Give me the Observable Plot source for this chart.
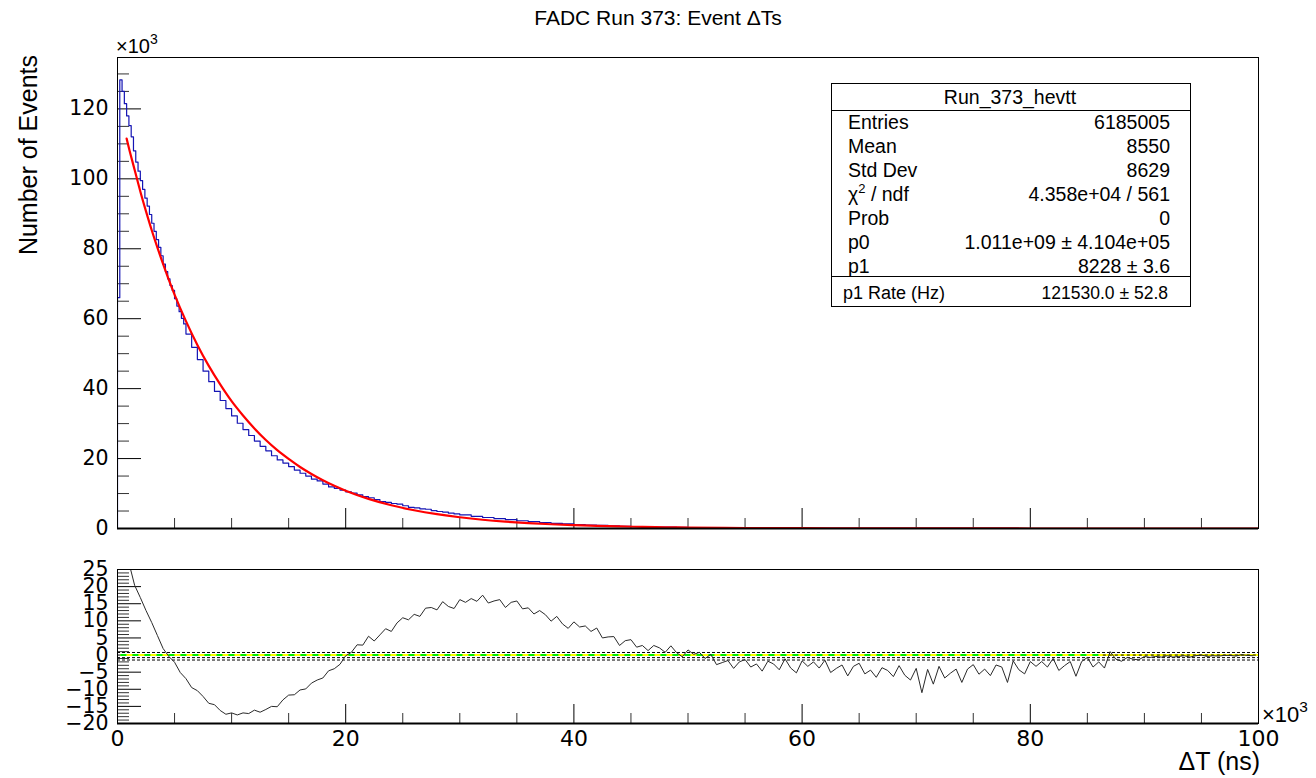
<!DOCTYPE html>
<html><head><meta charset="utf-8">
<script src="https://cdn.jsdelivr.net/npm/d3@7"></script>
<script src="https://cdn.jsdelivr.net/npm/@observablehq/plot@0.6"></script>
<style>
body{margin:0;background:#fff;}
#root{position:relative;width:1316px;height:778px;overflow:hidden;background:#fff;}
</style></head><body><div id="root"></div>
<script>
// ---------------- data ----------------
// histogram of event ΔT, in thousands of events per bin
const binsFineCounts = [66,128.3,125.0,121.5,118.0,115.2,112.0,108.0,104.8,102.2,
  99.5,97.0,94.5,92.2,89.8,87.3,85.0,82.6,80.4,78.0,
  75.6,73.5,71.4,69.5,68.1,65.7,63.6,62.0,60.1,58.5];            // 0–6k, 0.2k wide
const binsMidCounts = [55.6,51.8,48.3,45.0,42.0,39.2,36.6,34.3,32.2,30.1,
  28.3,26.6,25.0,23.5,22.2,20.8,19.6,18.7,17.7,16.7,
  15.8,15.0,14.1,13.6,12.7,11.9,11.5,11.0,10.5,10.1,
  9.6,9.1,8.8,8.24,7.7,7.5,7.15,6.95,6.5,6.05,
  5.92,5.64,5.5,5.11,4.86,4.7,4.39,4.17];                          // 6–30k, 0.5k wide
const binsTailCounts = [3.87,3.49,3.15,2.81,2.51,2.22,1.95,1.71,1.48,1.30,
  1.13,0.99,0.87,0.75,0.65,0.57,0.49,0.42,0.37,0.32,
  0.27,0.23,0.20,0.175,0.154,0.137,0.12,0.106,0.094,0.083,
  0.074,0.065,0.058,0.051,0.045,0.04,0.035,0.031,0.027,0.024,
  0.021,0.019,0.017,0.015,0.013,0.012,0.011,0.009,0.008,0.007,
  0.0065,0.006,0.005,0.005,0.004,0.004,0.003,0.003,0.003,0.002,
  0.002,0.002,0.002,0.001,0.001,0.001,0.001,0.001,0.001,0.001];    // 30–100k, 1k wide

// exponential fit curve (red), thousands of events
const fitX = [0.8,1,1.5,2,2.5,3,3.5,4,4.5,5,6,7,8,9,10,11,12,13,14,15,16,17,18,19,20,22,24,26,28,30,32,34,36,38,40,42,44,46,48,50,55,60,65,70,80,90,100];
const fitY = [111.5,108.8,102.6,96.4,90.7,85.3,80.3,75.6,71.1,66.9,59.3,52.5,46.5,41.2,36.4,32.3,28.6,25.3,22.4,19.9,17.6,15.6,13.8,12.2,10.8,8.48,6.65,5.21,4.09,3.21,2.51,1.97,1.55,1.21,0.95,0.75,0.58,0.46,0.36,0.28,0.15,0.08,0.045,0.025,0.007,0.002,0.0006];

// fit residuals, one value every 0.5k starting at 1k
const residualStart = 1.0, residualStep = 0.5;
const residuals = [
  27,20.4,16.8,13.0,9.5,5.7,1.9,-0.4,-2.1,-5.1,
  -6.9,-9.5,-10.4,-12.1,-14.1,-14.5,-16.2,-17.3,-16.9,-17.5,
  -16.9,-17.1,-16.1,-16.7,-15.9,-15.0,-15.1,-13.1,-11.7,-11.6,
  -10.2,-9.9,-8.2,-7.3,-6.7,-4.6,-4.0,-2.7,-0.2,0.8,
  3.0,2.9,5.5,4.1,5.9,7.7,6.9,9.4,10.9,10.3,
  11.9,11.3,13.7,13.9,13.2,15.6,14.2,13.6,16.2,15.4,
  16.5,15.7,17.5,15.2,15.8,16.2,13.9,15.4,15.8,13.5,
  13.8,12.0,13.0,11.8,9.9,11.3,9.1,7.8,9.7,8.2,
  8.5,6.9,7.9,5.0,5.3,5.4,2.8,4.2,4.5,2.3,
  2.8,1.3,2.8,2.1,0.8,2.7,0.7,-0.5,1.5,0.2,
  0.8,-1.0,0.2,-2.8,-2.2,-1.6,-3.9,-2.0,-1.3,-3.5,
  -2.6,-4.7,-1.8,-2.6,-4.3,-1.1,-3.8,-5.2,-1.7,-3.3,
  -2.0,-3.8,-1.5,-5.1,-3.9,-2.9,-6.1,-3.3,-2.4,-5.5,
  -4.4,-6.5,-3.7,-4.5,-6.3,-3.1,-5.9,-7.3,-3.9,-11.0,
  -4.2,-8.5,-3.3,-6.7,-5.3,-4.1,-8.0,-4.1,-2.8,-5.6,
  -4.1,-6.0,-2.9,-3.5,-8.0,-1.7,-4.3,-5.5,-1.9,-3.3,
  -1.9,-3.5,-1.0,-4.5,-3.1,-1.9,-6.2,-1.9,-0.7,-3.5,
  -2.0,-3.8,1.0,-1.2,-1.8,-0.7,-1.2,-1.4,-0.4,-0.7,
  -0.4,-0.6,-0.2,-0.6,-0.4,-0.2,-0.6,-0.2,0.0,-0.4,
  -0.2,-0.3,-0.1,-0.1,-0.3,0.1,-0.1,-0.2];
const residualGuides = [0.75, -0.75, -1.45];   // dashed guide lines
const bandEnd = 86.4;                            // extent of green band

// axes
const xTickLabels = [0,20,40,60,80,100];
const xMinorTicks = [5,10,15,25,30,35,45,50,55,65,70,75,85,90,95];
const yTopLabels = [0,20,40,60,80,100,120];
const yTopMinor = [5,10,15,25,30,35,45,50,55,65,70,75,85,90,95,105,110,115,125,130];
const yResLabels = [-20,-15,-10,-5,0,5,10,15,20,25];
const yResMinor = [-19,-18,-17,-16,-14,-13,-12,-11,-9,-8,-7,-6,-4,-3,-2,-1,1,2,3,4,6,7,8,9,11,12,13,14,16,17,18,19,21,22,23,24];

// stats box text
const statsTitle = "Run_373_hevtt";
const statsRows = [["Entries","6185005"],["Mean","8550"],["Std Dev","8629"],["CHI","4.358e+04 / 561"],["Prob","0"],["p0","1.011e+09 \u00b1 4.104e+05"],["p1","8228 \u00b1 3.6"]];
const statsRate = ["p1 Rate (Hz)","121530.0 \u00b1 52.8"];

// ---------------- build ----------------
const W = 1316;
const root = document.getElementById("root");
function place(el, top) { el.style.position = "absolute"; el.style.left = "0px"; el.style.top = top + "px"; root.appendChild(el); }

const edges = [...d3.range(30).map(i => i * 0.2), ...d3.range(48).map(i => 6 + i * 0.5), ...d3.range(70).map(i => 30 + i)];
const counts = [...binsFineCounts, ...binsMidCounts, ...binsTailCounts];
const histPts = [{x: 0, y: 0}];
edges.forEach((e, i) => histPts.push({x: e, y: counts[i]}));
histPts.push({x: 100, y: counts[counts.length - 1]});
histPts.push({x: 100, y: 0});
const fitPts = fitX.map((x, i) => ({x, y: fitY[i]}));
const resPts = residuals.map((v, i) => ({x: residualStart + i * residualStep, y: v}));

const mL = 117, mR = 58;
const frameW = W - mL - mR;

// top panel
const topH = 540, topMT = 57, topMB = 12, topFH = topH - topMT - topMB;
const topPlot = Plot.plot({
  width: W, height: topH, marginLeft: mL, marginRight: mR, marginTop: topMT, marginBottom: topMB,
  x: {domain: [0, 100], axis: null},
  y: {domain: [0, 134.7], axis: null},
  style: {background: "transparent", fontFamily: "DejaVu Sans", fontSize: "20.5px", color: "black"},
  marks: [
    Plot.tickY(yTopMinor, {y: d => d, insetRight: frameW - 12, stroke: "#333"}),
    Plot.tickY(yTopLabels, {y: d => d, insetRight: frameW - 24, stroke: "black"}),
    Plot.tickX(xMinorTicks, {x: d => d, insetTop: topFH - 10, stroke: "#333"}),
    Plot.tickX(xTickLabels, {x: d => d, insetTop: topFH - 20, stroke: "black"}),
    Plot.axisY(yTopLabels, {tickSize: 0, tickPadding: 9, label: null, fontSize: 20.5, fontFamily: "DejaVu Sans"}),
    Plot.line(histPts, {x: "x", y: "y", curve: "step-after", stroke: "#1414b4", strokeWidth: 1.2, clip: true}),
    Plot.line(fitPts, {x: "x", y: "y", curve: "monotone-x", stroke: "#ff0000", strokeWidth: 2.2, clip: true}),
    Plot.frame({stroke: "black"}),
    Plot.ruleY([0], {stroke: "black", strokeWidth: 2})
  ]
});
place(topPlot, 0);

// residual panel
const botH = 238, botMT = 29, botMB = 55, botFH = botH - botMT - botMB;
const botPlot = Plot.plot({
  width: W, height: botH, marginLeft: mL, marginRight: mR, marginTop: botMT, marginBottom: botMB,
  x: {domain: [0, 100], axis: null},
  y: {domain: [-20, 25], axis: null},
  style: {background: "transparent", fontFamily: "DejaVu Sans", fontSize: "20.5px", color: "black"},
  marks: [
    Plot.tickY(yResMinor, {y: d => d, insetRight: frameW - 12, stroke: "#333"}),
    Plot.tickY(yResLabels, {y: d => d, insetRight: frameW - 24, stroke: "black"}),
    Plot.tickX(xMinorTicks, {x: d => d, insetTop: botFH - 10, stroke: "#333"}),
    Plot.tickX(xTickLabels, {x: d => d, insetTop: botFH - 19, stroke: "black"}),
    Plot.axisY(yResLabels, {tickSize: 0, tickPadding: 9, label: null, fontSize: 20.5, fontFamily: "DejaVu Sans"}),
    Plot.axisX(xTickLabels, {tickSize: 0, tickPadding: 7, label: null, fontSize: 22, fontFamily: "DejaVu Sans"}),
    Plot.ruleY([0], {x1: 0.3, x2: 100, stroke: "#ffff00", strokeWidth: 2}),
    Plot.ruleY([0], {x1: 0.3, x2: bandEnd, stroke: "#00ee00", strokeWidth: 2, strokeDasharray: "6,6"}),
    Plot.ruleY([0], {x1: bandEnd, x2: 100, stroke: "black", strokeDasharray: "3,3"}),
    Plot.ruleY(residualGuides, {stroke: "black", strokeDasharray: "3,2"}),
    Plot.line(resPts, {x: "x", y: "y", stroke: "#2a2a2a", strokeWidth: 1, clip: true}),
    Plot.frame({stroke: "black"}),
    Plot.ruleY([-20], {stroke: "black", strokeWidth: 2})
  ]
});
place(botPlot, 540);

// annotations
const svg = d3.create("svg").attr("width", W).attr("height", 778)
  .style("position", "absolute").style("left", "0px").style("top", "0px")
  .attr("font-family", "'Liberation Sans', Arial, sans-serif").attr("fill", "black");

svg.append("text").attr("x", 658).attr("y", 25).attr("text-anchor", "middle").attr("font-size", 21)
  .text("FADC Run 373: Event \u0394Ts");

function times10(x, y, fs) {
  const t = svg.append("text").attr("x", x).attr("y", y).attr("font-size", fs);
  t.append("tspan").text("\u00d710");
  t.append("tspan").attr("dy", -fs * 0.45).attr("font-size", fs * 0.7).text("3");
}
times10(116, 53, 20);
times10(1262, 722, 22);

svg.append("text").attr("transform", "translate(37,55) rotate(-90)").attr("text-anchor", "end").attr("font-size", 25)
  .text("Number of Events");
svg.append("text").attr("x", 1260).attr("y", 770).attr("text-anchor", "end").attr("font-size", 25)
  .text("\u0394T (ns)");

// stats box
const bx = 831.5, by = 83.5, bw = 359, bh = 223;
svg.append("rect").attr("x", bx).attr("y", by).attr("width", bw).attr("height", bh)
  .attr("fill", "white").attr("stroke", "black");
svg.append("line").attr("x1", bx).attr("x2", bx + bw).attr("y1", 110.5).attr("y2", 110.5).attr("stroke", "black");
svg.append("line").attr("x1", bx).attr("x2", bx + bw).attr("y1", 276.5).attr("y2", 276.5).attr("stroke", "black");
svg.append("text").attr("x", 1010).attr("y", 104).attr("text-anchor", "middle").attr("font-size", 19.5).text(statsTitle);
statsRows.forEach(([k, v], i) => {
  const yy = 129 + i * 24;
  const t = svg.append("text").attr("x", 848).attr("y", yy).attr("font-size", 19.5);
  if (k === "CHI") {
    t.append("tspan").text("\u03c7");
    t.append("tspan").attr("dy", -8).attr("font-size", 13).text("2");
    t.append("tspan").attr("dy", 8).text(" / ndf");
  } else t.text(k);
  svg.append("text").attr("x", 1170).attr("y", yy).attr("text-anchor", "end").attr("font-size", 19.5).text(v);
});
svg.append("text").attr("x", 843).attr("y", 299).attr("font-size", 18).text(statsRate[0]);
svg.append("text").attr("x", 1168).attr("y", 299).attr("text-anchor", "end").attr("font-size", 17.5).text(statsRate[1]);

root.appendChild(svg.node());
</script></body></html>
